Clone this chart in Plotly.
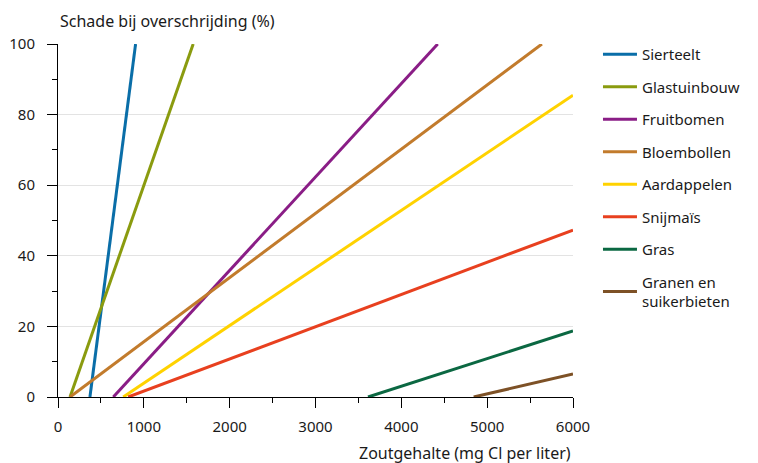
import plotly.graph_objects as go

crops = ["Sierteelt", "Glastuinbouw", "Fruitbomen", "Bloembollen",
         "Aardappelen", "Snijmaïs", "Gras", "Granen en<br>suikerbieten"]
x_zero = [372, 140, 644, 140, 760, 818, 3612, 4843]
x_end = [904, 1575, 4424, 5638, 6000, 6000, 6000, 6000]
y_end = [100, 100, 100, 100, 85.5, 47.3, 18.7, 6.5]
colors = ["#0a6ea8", "#8a9b0f", "#8a1d86", "#c27b2c",
          "#ffd200", "#e8401f", "#0b6842", "#7d5126"]

x_ticks = [0, 1000, 2000, 3000, 4000, 5000, 6000]
y_ticks = [0, 20, 40, 60, 80, 100]

FONT = "Noto Sans"
TXT = "#1a1a1a"

fig = go.Figure()
for i, name in enumerate(crops):
    fig.add_trace(go.Scatter(
        x=[x_zero[i], x_end[i]], y=[0, y_end[i]],
        mode="lines", name=name, legendgroup=f"g{i}",
        line=dict(color=colors[i], width=3),
        hoverinfo="skip",
    ))

fig.update_layout(
    width=750, height=455,
    margin=dict(l=50, r=185, t=36, b=66),
    plot_bgcolor="white", paper_bgcolor="white",
    font=dict(family=FONT, size=15, color=TXT),
    showlegend=True,
    legend=dict(x=1.0485, xanchor="left", y=1.017, yanchor="top",
                xref="paper", yref="paper", maxheight=420,
                itemwidth=34, tracegroupgap=10,
                font=dict(family=FONT, size=15, color=TXT),
                bgcolor="rgba(0,0,0,0)", borderwidth=0),
    xaxis=dict(range=[0, 6000], tickvals=x_ticks, ticks="outside", ticklen=10,
               tickcolor="#000", tickwidth=1, showline=True, linecolor="#000",
               linewidth=1, showgrid=False, zeroline=False, automargin=False,
               tickfont=dict(family=FONT, size=15, color=TXT),
               ticklabelstandoff=6,
               minor=dict(dtick=500, ticks="outside", ticklen=5,
                          tickcolor="#000", showgrid=False)),
    yaxis=dict(range=[0, 100], tickvals=y_ticks, ticks="outside", ticklen=10,
               tickcolor="#000", tickwidth=1, showline=True, linecolor="#000",
               linewidth=1, showgrid=True, gridcolor="#e3e3e3", gridwidth=1,
               zeroline=False, automargin=False,
               tickfont=dict(family=FONT, size=15, color=TXT),
               ticklabelstandoff=9,
               minor=dict(dtick=10, ticks="outside", ticklen=5,
                          tickcolor="#000", showgrid=False)),
    annotations=[
        dict(text="Schade bij overschrijding (%)", xref="paper", yref="paper",
             x=0, y=1, xanchor="left", yanchor="bottom", yshift=10,
             showarrow=False, font=dict(family=FONT, size=16, color=TXT)),
        dict(text="Zoutgehalte (mg Cl per liter)", xref="paper", yref="paper",
             x=1, y=0, xanchor="right", yanchor="top", yshift=-43,
             showarrow=False, font=dict(family=FONT, size=16, color=TXT)),
    ],
)

fig.write_html("out.html")
